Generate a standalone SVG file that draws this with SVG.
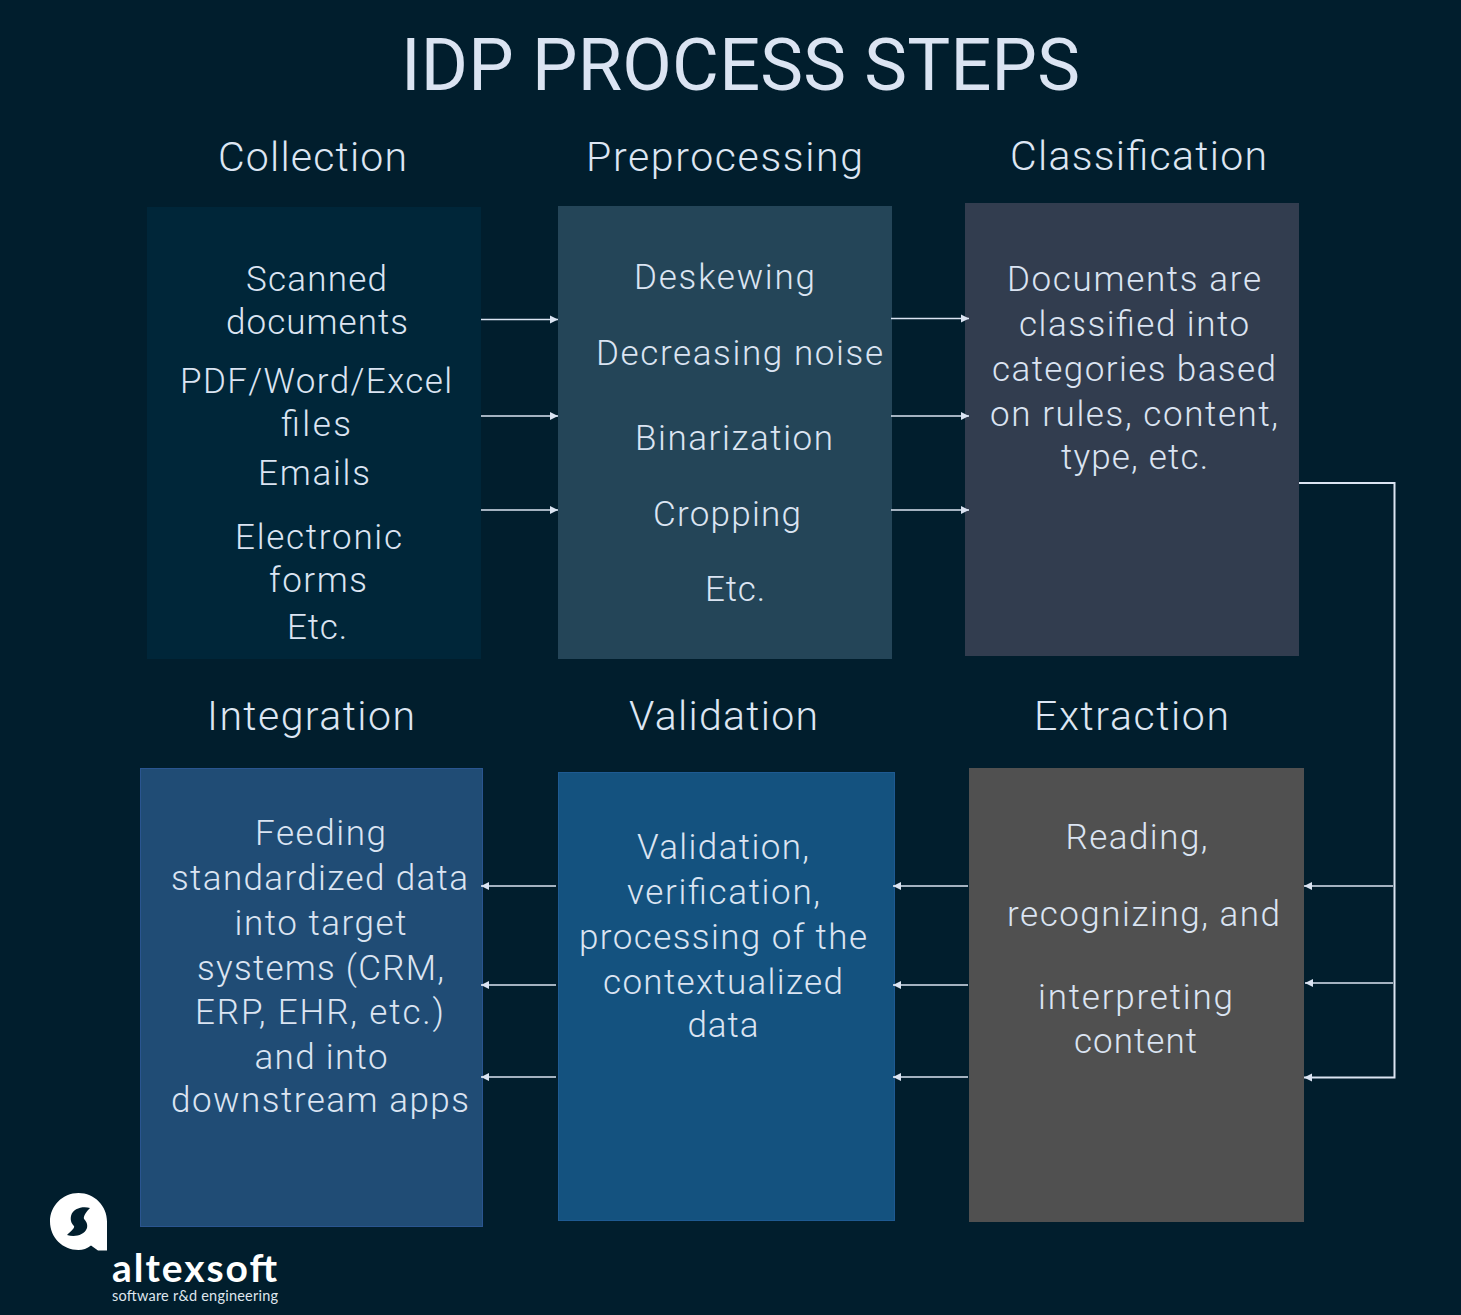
<svg xmlns="http://www.w3.org/2000/svg" width="1461" height="1315" viewBox="0 0 1461 1315">
<style>
text{font-family:Roboto,"Liberation Sans",sans-serif;font-weight:300;fill:#dbe4f2}
.t{font-size:72px;font-weight:400}
.h{font-size:41px;fill:#dde6f3}
.b{font-size:35px}
.c{fill:none;stroke:#dbe4f2;stroke-width:2}
.a{stroke:#dbe4f2;stroke-width:1.6;fill:none}
</style>
<defs>
<marker id="ah" markerUnits="userSpaceOnUse" markerWidth="9" markerHeight="9" refX="8" refY="4.500" orient="auto"><path d="M0 0.500L8 4.500L0 8.500z" fill="#dbe4f2"/></marker>
</defs>
<rect width="1461" height="1315" fill="#011e2d"/>
<text id="title" class="t" x="401" y="90" textLength="679" lengthAdjust="spacing">IDP PROCESS STEPS</text>
<g id="collection">
<rect x="147" y="207" width="334" height="452" fill="#002639"/>
<text class="h" x="218" y="170.500" textLength="189">Collection</text>
<text class="b" x="246" y="290.500" textLength="141">Scanned</text>
<text class="b" x="226" y="333.500" textLength="182">documents</text>
<text class="b" x="180" y="392.500" textLength="272">PDF/Word/Excel</text>
<text class="b" x="281" y="435.500" textLength="70">files</text>
<text class="b" x="258" y="485" textLength="112">Emails</text>
<text class="b" x="235" y="548.500" textLength="167">Electronic</text>
<text class="b" x="269" y="591.500" textLength="98">forms</text>
<text class="b" x="287" y="638.500" textLength="60">Etc.</text>
</g>
<g id="preprocessing">
<rect x="558" y="206" width="334" height="453" fill="#244558"/>
<text class="h" x="586" y="170.500" textLength="277">Preprocessing</text>
<text class="b" x="634" y="288.500" textLength="181">Deskewing</text>
<text class="b" x="596" y="365" textLength="287">Decreasing noise</text>
<text class="b" x="635" y="449.500" textLength="198">Binarization</text>
<text class="b" x="653" y="525.500" textLength="148">Cropping</text>
<text class="b" x="705" y="600.500" textLength="60">Etc.</text>
</g>
<g id="classification">
<rect x="965" y="203" width="334" height="453" fill="#323d4f"/>
<text class="h" x="1010" y="170" textLength="257">Classification</text>
<text class="b" x="1007" y="290.500" textLength="254">Documents are</text>
<text class="b" x="1019" y="336" textLength="230">classified into</text>
<text class="b" x="992" y="380.500" textLength="284">categories based</text>
<text class="b" x="990" y="426" textLength="288">on rules, content,</text>
<text class="b" x="1061" y="468.500" textLength="147">type, etc.</text>
</g>
<g id="integration">
<rect x="140.500" y="768.500" width="342" height="458" fill="#204c75" stroke="#2a5590"/>
<text class="h" x="207" y="729.500" textLength="208">Integration</text>
<text class="b" x="255" y="845" textLength="131">Feeding</text>
<text class="b" x="171" y="890" textLength="297">standardized data</text>
<text class="b" x="234.500" y="935" textLength="172">into target</text>
<text class="b" x="197" y="980" textLength="247">systems (CRM,</text>
<text class="b" x="195" y="1024" textLength="249">ERP, EHR, etc.)</text>
<text class="b" x="254.500" y="1069" textLength="133">and into</text>
<text class="b" x="171" y="1112" textLength="298">downstream apps</text>
</g>
<g id="validation">
<rect x="558.500" y="772.500" width="336" height="448" fill="#14527f" stroke="#1e5a92"/>
<text class="h" x="629" y="729.500" textLength="189">Validation</text>
<text class="b" x="637" y="858.500" textLength="172">Validation,</text>
<text class="b" x="627" y="904" textLength="193">verification,</text>
<text class="b" x="579" y="948.500" textLength="288">processing of the</text>
<text class="b" x="603" y="993.500" textLength="240">contextualized</text>
<text class="b" x="687.500" y="1037" textLength="71">data</text>
</g>
<g id="extraction">
<rect x="969" y="768" width="335" height="454" fill="#505050"/>
<text class="h" x="1034" y="729.500" textLength="195">Extraction</text>
<text class="b" x="1065.500" y="849" textLength="142">Reading,</text>
<text class="b" x="1007" y="926" textLength="273">recognizing, and</text>
<text class="b" x="1038" y="1009" textLength="195">interpreting</text>
<text class="b" x="1074" y="1052.500" textLength="123">content</text>
</g>
<g id="connectors">
<path class="a" marker-end="url(#ah)" d="M481 319.500H558"/>
<path class="a" marker-end="url(#ah)" d="M481 416H558"/>
<path class="a" marker-end="url(#ah)" d="M481 510H558"/>
<path class="a" marker-end="url(#ah)" d="M891 318.500H969"/>
<path class="a" marker-end="url(#ah)" d="M891 416H969"/>
<path class="a" marker-end="url(#ah)" d="M891 510H969"/>
<path class="c" marker-end="url(#ah)" d="M1299 483H1394.500V1077.500H1304"/>
<path class="a" marker-end="url(#ah)" d="M1393 886H1304"/>
<path class="a" marker-end="url(#ah)" d="M1393 983H1305"/>
<path class="a" marker-end="url(#ah)" d="M968 886H893"/>
<path class="a" marker-end="url(#ah)" d="M968 985H893"/>
<path class="a" marker-end="url(#ah)" d="M968 1077H893"/>
<path class="a" marker-end="url(#ah)" d="M556 886H481"/>
<path class="a" marker-end="url(#ah)" d="M556 985H481"/>
<path class="a" marker-end="url(#ah)" d="M556 1077H481"/>
</g>
<g id="logo">
<path fill="#fff" d="M78.500 1193C94.500 1193 107 1206 107 1221.500V1250.500H98L91 1245.500C87 1248.500 83 1250 78.500 1250C62.500 1250 50 1237.500 50 1221.500C50 1206 62.500 1193 78.500 1193Z"/>
<path fill="#011e2d" d="M90 1208C83 1206 73 1208 71 1216C70 1221 72 1224 74 1226C75 1228 71 1231 67 1235C74 1237 84 1236 87 1228C88 1224 86 1221 84 1219C83 1216 87 1211 90 1208Z"/>
<text x="112" y="1282" textLength="165" style="font-family:Lato,sans-serif;font-size:39px;font-weight:700;fill:#fff">altexsoft</text>
<text x="112" y="1301" textLength="166" style="font-family:Lato,sans-serif;font-size:14.500px;font-weight:400;fill:#dfe6ee">software r&amp;d engineering</text>
</g>
</svg>
